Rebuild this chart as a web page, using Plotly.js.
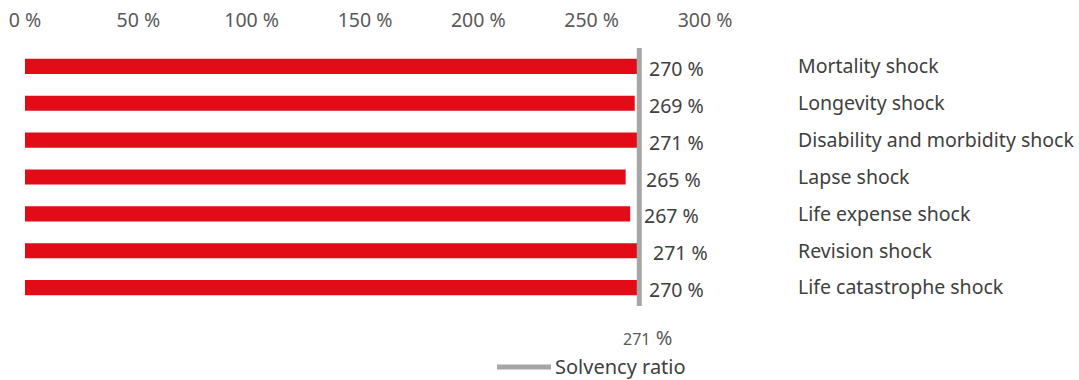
<!DOCTYPE html>
<html>
<head>
<meta charset="utf-8">
<script src="https://cdn.plot.ly/plotly-3.0.1.min.js"></script>
<style>html,body{margin:0;padding:0;background:#fff;}#chart{width:1079px;height:380px;}</style>
</head>
<body>
<div id="chart"></div>
<script>
const categories = ["Mortality shock", "Longevity shock", "Disability and morbidity shock", "Lapse shock", "Life expense shock", "Revision shock", "Life catastrophe shock"];
const ratios = [270, 269, 271, 265, 267, 271, 270];
const solvencyRatio = 271;
const tickValues = [0, 50, 100, 150, 200, 250, 300];
const tickLabels = ["0 %", "50 %", "100 %", "150 %", "200 %", "250 %", "300 %"];
const labelShifts = [10, 10, 10, 7, 5, 14, 10];

const fontFam = '"Noto Sans", "Open Sans", sans-serif';

const bars = {
  type: 'bar', orientation: 'h',
  x: ratios, y: categories,
  marker: {color: '#e30b17'},
  hoverinfo: 'skip', showlegend: false
};
const line = {
  type: 'scatter', mode: 'lines',
  x: [solvencyRatio, solvencyRatio],
  y: [-0.5, 6.5], yaxis: 'y2',
  line: {color: '#a6a6a6', width: 5},
  name: 'Solvency ratio', showlegend: false, hoverinfo: 'skip'
};

const pw = 1079 - 25 - 374, ph = 380 - 48 - 74;

const annotations = ratios.map((v, i) => ({
  x: solvencyRatio, y: categories[i], xref: 'x', yref: 'y',
  text: v + ' %', showarrow: false, xanchor: 'left', xshift: labelShifts[i] - 2, yshift: -2,
  font: {family: fontFam, size: 19.5, color: '#404040'}
}));
annotations.push({
  x: solvencyRatio, y: 0, xref: 'x', yref: 'paper', yanchor: 'middle', yshift: -(337 - 306),
  text: '<span style="font-size:16px">' + solvencyRatio + '</span> %', showarrow: false, xanchor: 'center', xshift: 8,
  font: {family: fontFam, size: 20, color: '#595959'}
});
annotations.push({
  x: (553 - 25) / pw, y: -(366 - 306) / ph, xref: 'paper', yref: 'paper', yanchor: 'middle', xanchor: 'left',
  text: 'Solvency ratio', showarrow: false,
  font: {family: fontFam, size: 20, color: '#404040'}
});

const layout = {
  width: 1079, height: 380,
  margin: {l: 25, r: 374, t: 48, b: 74},
  paper_bgcolor: '#fff', plot_bgcolor: '#fff',
  bargap: 0.59,
  showlegend: false,
  xaxis: {
    side: 'top', range: [0, 300], tickvals: tickValues, ticktext: tickLabels,
    showgrid: false, zeroline: false, showline: false, ticks: '',
    ticklabelstandoff: 16,
    tickfont: {family: fontFam, size: 19.5, color: '#595959'}
  },
  yaxis: {
    type: 'category', range: [6.5, -0.5], side: 'right',
    showgrid: false, zeroline: false, showline: false, ticks: '',
    ticklabelstandoff: 92,
    tickfont: {family: fontFam, size: 19.5, color: '#404040'}
  },
  yaxis2: {
    overlaying: 'y', range: [6.5, -0.5], visible: false
  },
  annotations: annotations,
  shapes: [{
    type: 'line', xref: 'paper', yref: 'paper',
    x0: (497 - 25) / pw, x1: (551 - 25) / pw,
    y0: -(367 - 306) / ph, y1: -(367 - 306) / ph,
    line: {color: '#a6a6a6', width: 5}
  }]
};

Plotly.newPlot('chart', [bars, line], layout, {displayModeBar: false, staticPlot: true});
</script>
</body>
</html>
